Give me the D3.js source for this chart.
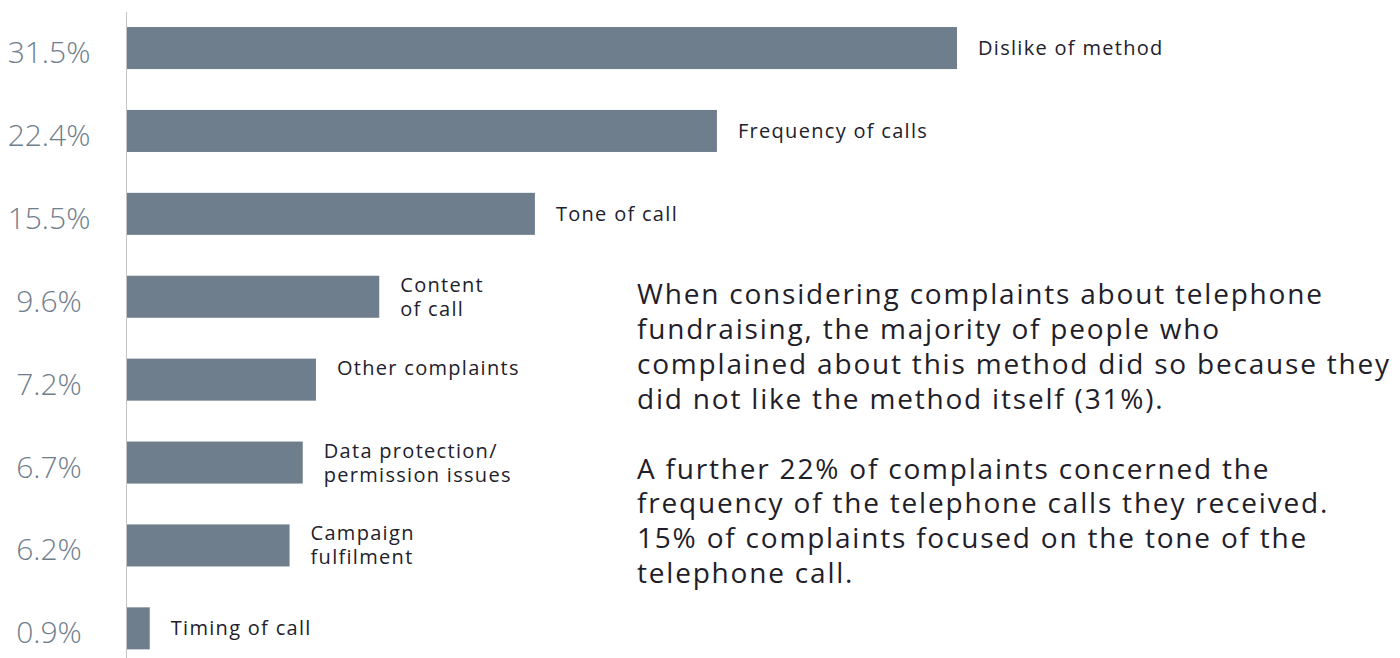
<!DOCTYPE html>
<html>
<head>
<meta charset="utf-8">
<script src="https://cdn.jsdelivr.net/npm/d3@7"></script>
<style>
  html, body { margin: 0; padding: 0; background: #fff; }
  svg { display: block; }
</style>
</head>
<body>
<div id="chart"></div>
<script>
// values, top to bottom
const values = [31.5, 22.4, 15.5, 9.6, 7.2, 6.7, 6.2, 0.9];
const valueLabels = ["31.5%", "22.4%", "15.5%", "9.6%", "7.2%", "6.7%", "6.2%", "0.9%"];
const categories = [
  ["Dislike of method"],
  ["Frequency of calls"],
  ["Tone of call"],
  ["Content", "of call"],
  ["Other complaints", ""],
  ["Data protection/", "permission issues"],
  ["Campaign", "fulfilment"],
  ["Timing of call"]
];
const paragraphs = [
  ["When considering complaints about telephone",
   "fundraising, the majority of people who",
   "complained about this method did so because they",
   "did not like the method itself (31%)."],
  ["A further 22% of complaints concerned the",
   "frequency of the telephone calls they received.",
   "15% of complaints focused on the tone of the",
   "telephone call."]
];

const width = 1400, height = 658;
const barColor = "#6f7e8d";
const font = "'Open Sans', sans-serif";

const svg = d3.select("#chart").append("svg")
  .attr("width", width)
  .attr("height", height);

const x = d3.scaleLinear()
  .domain([0, d3.max(values)])
  .range([126, 957]);

const y = d3.scaleBand()
  .domain(d3.range(values.length))
  .range([6.6, 669.8])
  .paddingInner(0.493)
  .paddingOuter(0.2465);

// bars
svg.selectAll("rect.bar")
  .data(values)
  .enter()
  .append("rect")
  .attr("class", "bar")
  .attr("x", x(0))
  .attr("y", (d, i) => y(i))
  .attr("width", d => x(d) - x(0))
  .attr("height", y.bandwidth())
  .attr("fill", barColor);

// axis line
svg.append("line")
  .attr("x1", x(0) + 0.5).attr("x2", x(0) + 0.5)
  .attr("y1", 12).attr("y2", height)
  .attr("stroke", "#c4c4c4")
  .attr("stroke-width", 1);

// percentage labels on the left
svg.selectAll("text.value")
  .data(valueLabels)
  .enter()
  .append("text")
  .attr("class", "value")
  .attr("x", 49)
  .attr("y", (d, i) => y(i) + y.bandwidth() / 2 + 15)
  .attr("text-anchor", "middle")
  .attr("font-family", font)
  .attr("font-weight", 300)
  .attr("font-size", 30)
  .attr("fill", barColor)
  .text(d => d);

// category labels after each bar
const lineH = 24;
const cat = svg.selectAll("text.cat")
  .data(categories)
  .enter()
  .append("text")
  .attr("class", "cat")
  .attr("font-family", font)
  .attr("font-size", 20)
  .attr("letter-spacing", 1.3)
  .attr("fill", "#22212c")
  .attr("x", (d, i) => x(values[i]) + 21)
  .attr("y", (d, i) => y(i) + y.bandwidth() / 2 + 7 - (d.length - 1) * lineH / 2);

cat.selectAll("tspan")
  .data(d => d)
  .enter()
  .append("tspan")
  .attr("x", function() { return this.parentNode.getAttribute("x"); })
  .attr("dy", (d, j) => j === 0 ? 0 : lineH)
  .text(d => d);

// commentary text on the right
const paraX = 637, paraY = 304, paraLine = 34.9;
const para = svg.append("text")
  .attr("font-family", font)
  .attr("font-size", 28)
  .attr("letter-spacing", 1.8)
  .attr("fill", "#1f1e2a");

let row = 0;
paragraphs.forEach((lines, p) => {
  if (p > 0) row += 1;
  lines.forEach(line => {
    para.append("tspan")
      .attr("x", paraX)
      .attr("y", paraY + row * paraLine)
      .text(line);
    row += 1;
  });
});
</script>
</body>
</html>
